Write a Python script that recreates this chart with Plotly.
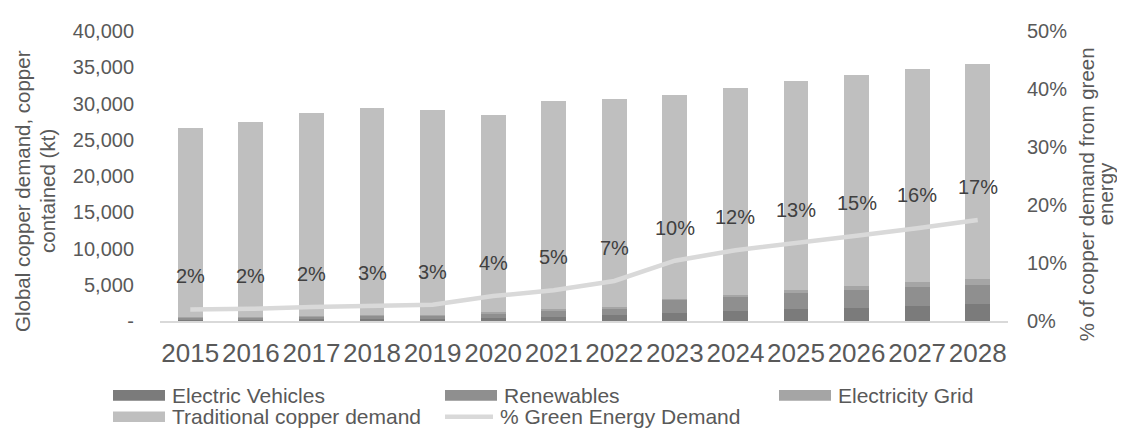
import plotly.graph_objects as go

# ---------------- data ----------------
years = ["2015", "2016", "2017", "2018", "2019", "2020", "2021",
         "2022", "2023", "2024", "2025", "2026", "2027", "2028"]
electric_vehicles = [150, 180, 220, 260, 300, 400, 600, 800, 1060, 1320, 1590, 1850, 2120, 2380]
renewables = [280, 280, 340, 430, 400, 700, 850, 970, 1950, 1990, 2250, 2380, 2520, 2520]
electricity_grid = [100, 100, 100, 110, 100, 100, 150, 130, 90, 265, 400, 530, 800, 930]
traditional = [26070, 26940, 28040, 28600, 28300, 27200, 28800, 28700, 28100, 28600, 28860, 29140, 29260, 29570]
green_pct = [2.0, 2.1, 2.4, 2.6, 2.8, 4.3, 5.3, 6.9, 10.4, 12.2, 13.4, 14.7, 16.0, 17.4]

left_tickvals = [0, 5000, 10000, 15000, 20000, 25000, 30000, 35000, 40000]
left_ticktext = ["-", "5,000", "10,000", "15,000", "20,000", "25,000", "30,000", "35,000", "40,000"]
right_tickvals = [0, 0.1, 0.2, 0.3, 0.4, 0.5]

series_names = ["Electric Vehicles", "Renewables", "Electricity Grid", "Traditional copper demand"]
line_name = "% Green Energy Demand"
left_title_lines = ["Global copper demand, copper", "contained (kt)"]
right_title_lines = ["% of copper demand from green", "energy"]

# ---------------- style ----------------
FONT = "Liberation Sans, Arial, sans-serif"
colors = ["#7b7b7b", "#8f8f8f", "#a5a5a5", "#bfbfbf"]
line_color = "#d9d9d9"
text_grey = "#595959"
label_grey = "#404040"

OFF = 8                      # page body margin
W, H = 1125 - 2 * OFF, 439 - 2 * OFF
L_REF, T_REF = 160, 21       # plot-area corner in the page
PW, PH = 848, 300
L, T = L_REF - OFF, T_REF - OFF
R, B = W - L - PW, H - T - PH


def px_x(px):
    return (px - L_REF) / PW


def px_y(py):
    return (T_REF + PH - py) / PH


fig = go.Figure()
for name, vals, col in zip(series_names,
                           [electric_vehicles, renewables, electricity_grid, traditional],
                           colors):
    fig.add_trace(go.Bar(x=years, y=vals, name=name, marker=dict(color=col, line=dict(width=0)),
                         showlegend=False))

fig.add_trace(go.Scatter(x=years, y=[p / 100 for p in green_pct], name=line_name, yaxis="y2",
                         mode="lines", line=dict(color=line_color, width=4.5),
                         showlegend=False))

annotations = []
for i, p in enumerate(green_pct):
    annotations.append(dict(x=i, y=p / 100, xref="x", yref="y2", text=f"{round(p)}%",
                            showarrow=False, yshift=33,
                            font=dict(family=FONT, size=20, color=label_grey)))

# axis titles, one annotation per line
for txt, cx, cy in [(left_title_lines[0], 23, 186.5), (left_title_lines[1], 48, 186.5),
                    (right_title_lines[0], 1086, 190), (right_title_lines[1], 1105, 190)]:
    annotations.append(dict(x=px_x(cx), y=px_y(cy), xref="paper", yref="paper",
                            text=txt, textangle=-90,
                            showarrow=False, xanchor="center", yanchor="middle",
                            font=dict(family=FONT, size=20.5, color=text_grey)))

# manual legend
shapes = []
legend_items = [
    (series_names[0], colors[0], 113, 398, "bar"),
    (series_names[1], colors[1], 445, 398, "bar"),
    (series_names[2], colors[2], 779, 398, "bar"),
    (series_names[3], colors[3], 113, 420, "bar"),
    (line_name, line_color, 443, 420, "line"),
]
for name, col, sx, cy, kind in legend_items:
    if kind == "bar":
        shapes.append(dict(type="rect", xref="paper", yref="paper",
                           x0=px_x(sx), x1=px_x(sx + 52), y0=px_y(cy - 5.5), y1=px_y(cy + 5.5),
                           fillcolor=col, line=dict(width=0)))
        tx = sx + 57
    else:
        shapes.append(dict(type="line", xref="paper", yref="paper",
                           x0=px_x(sx + 2), x1=px_x(sx + 50), y0=px_y(cy), y1=px_y(cy),
                           line=dict(color=col, width=4.5)))
        tx = sx + 55
    annotations.append(dict(x=px_x(tx), y=px_y(cy), xref="paper", yref="paper", text=name,
                            showarrow=False, xanchor="left", yanchor="middle",
                            font=dict(family=FONT, size=21, color=text_grey)))

fig.update_layout(
    width=W, height=H,
    margin=dict(l=L, r=R, t=T, b=B, pad=0),
    paper_bgcolor="white", plot_bgcolor="white",
    barmode="stack", bargap=0.5875,
    font=dict(family=FONT, color=text_grey),
    showlegend=False,
    xaxis=dict(type="category", range=[-0.5, len(years) - 0.5], showline=True,
               linecolor="#d9d9d9", linewidth=1.5,
               showgrid=False, ticks="", tickfont=dict(size=26, color=text_grey),
               ticklabelstandoff=8),
    yaxis=dict(range=[0, 40000], tickvals=left_tickvals, ticktext=left_ticktext,
               showgrid=False, zeroline=False, showline=False, ticks="",
               tickfont=dict(size=20, color=text_grey), ticklabelstandoff=25),
    yaxis2=dict(range=[0, 0.5], tickvals=right_tickvals, tickformat=".0%",
                overlaying="y", side="right", showgrid=False, zeroline=False,
                showline=False, ticks="", tickfont=dict(size=20, color=text_grey),
                ticklabelstandoff=18),
    annotations=annotations,
    shapes=shapes,
)

fig.write_html("out.html")
